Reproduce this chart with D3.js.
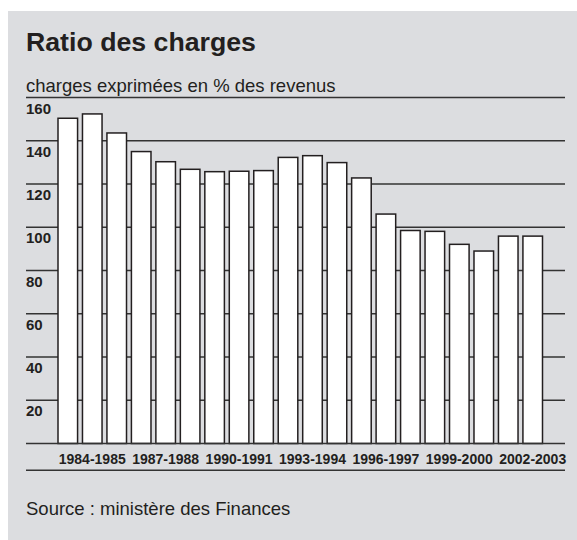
<!DOCTYPE html>
<html>
<head>
<meta charset="utf-8">
<script src="https://cdn.jsdelivr.net/npm/d3@7"></script>
<style>
  body { margin: 0; background: #ffffff; }
  svg text { font-family: "Liberation Sans", Arial, sans-serif; fill: #231f20; }
</style>
</head>
<body>
<div id="chart"></div>
<script>
// exercise years, one bar each
const years = [
  "1983-1984", "1984-1985", "1985-1986", "1986-1987", "1987-1988",
  "1988-1989", "1989-1990", "1990-1991", "1991-1992", "1992-1993",
  "1993-1994", "1994-1995", "1995-1996", "1996-1997", "1997-1998",
  "1998-1999", "1999-2000", "2000-2001", "2001-2002", "2002-2003"
];
// charges as % of revenues
const ratios = [
  150.4, 152.4, 143.6, 135.0, 130.3, 126.8, 125.7, 125.9, 126.2, 132.3,
  133.1, 129.9, 122.8, 106.1, 98.5, 98.1, 92.1, 89.0, 95.9, 95.9
];
const yTicks = [20, 40, 60, 80, 100, 120, 140, 160];
const xLabels = ["1984-1985", "1987-1988", "1990-1991", "1993-1994", "1996-1997", "1999-2000", "2002-2003"];

const width = 577, height = 540;

const svg = d3.select("#chart")
  .append("svg")
  .attr("width", width)
  .attr("height", height);

// grey panel
svg.append("rect")
  .attr("x", 8)
  .attr("y", 11)
  .attr("width", width - 8)
  .attr("height", height - 11)
  .attr("fill", "#dcdde0");

const x = d3.scaleBand()
  .domain(years)
  .range([58, 542.5])
  .paddingInner(0.2)
  .paddingOuter(0);

const y = d3.scaleLinear()
  .domain([0, 160])
  .range([443.5, 97.5]);

const lineLeft = 26, lineRight = 565;

// horizontal grid lines (behind the bars)
svg.append("g")
  .selectAll("line")
  .data(yTicks)
  .enter()
  .append("line")
  .attr("x1", lineLeft)
  .attr("x2", lineRight)
  .attr("y1", (d) => y(d))
  .attr("y2", (d) => y(d))
  .attr("stroke", "#333")
  .attr("stroke-width", 1.4);

// tick labels sit just under their line
svg.append("g")
  .selectAll("text")
  .data(yTicks)
  .enter()
  .append("text")
  .attr("x", lineLeft)
  .attr("y", (d) => y(d) + 16)
  .attr("font-size", "15px")
  .attr("font-weight", "bold")
  .text((d) => d);

// bars
svg.append("g")
  .selectAll("rect")
  .data(ratios)
  .enter()
  .append("rect")
  .attr("x", (d, i) => x(years[i]))
  .attr("y", (d) => y(d))
  .attr("width", x.bandwidth())
  .attr("height", (d) => y(0) - y(d))
  .attr("fill", "#ffffff")
  .attr("stroke", "#231f20")
  .attr("stroke-width", 1.5);

// baseline
svg.append("line")
  .attr("x1", lineLeft)
  .attr("x2", lineRight)
  .attr("y1", y(0))
  .attr("y2", y(0))
  .attr("stroke", "#333")
  .attr("stroke-width", 1.6);

// x labels, every third year, centred on their bar
svg.append("g")
  .selectAll("text")
  .data(xLabels)
  .enter()
  .append("text")
  .attr("x", (d) => x(d) + x.bandwidth() / 2)
  .attr("y", y(0) + 20)
  .attr("text-anchor", "middle")
  .attr("font-size", "14px")
  .attr("font-weight", "bold")
  .text((d) => d);

// line under the x labels
svg.append("line")
  .attr("x1", lineLeft)
  .attr("x2", lineRight)
  .attr("y1", 470.3)
  .attr("y2", 470.3)
  .attr("stroke", "#333")
  .attr("stroke-width", 1.4);

// title + subtitle
svg.append("text")
  .attr("x", 26)
  .attr("y", 51)
  .attr("font-size", "26.7px")
  .attr("font-weight", "bold")
  .text("Ratio des charges");

svg.append("text")
  .attr("x", 26)
  .attr("y", 91.5)
  .attr("font-size", "18.5px")
  .text("charges exprimées en % des revenus");

svg.append("text")
  .attr("x", 26)
  .attr("y", 515)
  .attr("font-size", "18.5px")
  .text("Source : ministère des Finances");
</script>
</body>
</html>
